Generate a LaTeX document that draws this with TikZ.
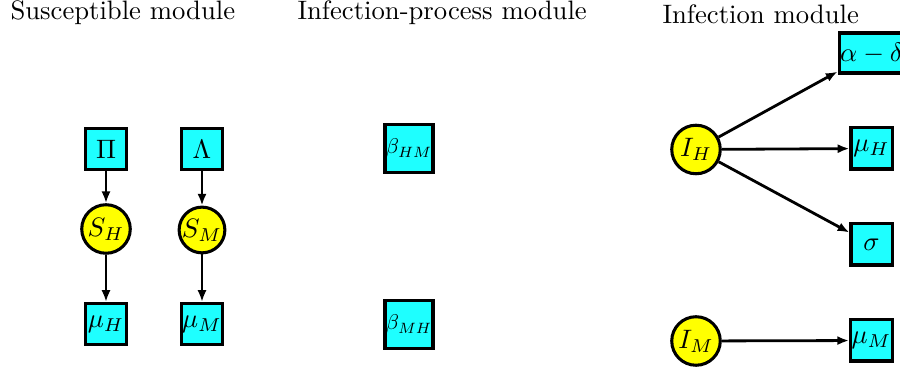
\documentclass[tikz,border=0pt]{standalone}
\usetikzlibrary{arrows.meta}
\definecolor{boxcyan}{RGB}{30,255,255}
\definecolor{circyellow}{RGB}{255,255,0}
\begin{document}
\begin{tikzpicture}[x=0.375pt,y=-0.375pt,
  sqbox/.style={draw=black,fill=boxcyan,line width=1.15pt,inner sep=0.4pt,minimum width=15.4pt,minimum height=15.4pt},
  bigbox/.style={sqbox,inner sep=0pt,minimum width=18pt,minimum height=18pt},
  statecirc/.style={circle,draw=black,fill=circyellow,line width=1.15pt,inner sep=0pt,minimum size=18.2pt},
  flow/.style={line width=1.05pt,-{Latex[length=4.4pt,width=3.4pt]}},
  title/.style={anchor=base west,inner sep=0pt,font=\normalsize}]
\clip (0,0) rectangle (900,368);
% titles
\node[title] (t1) at (10,19.5) {Susceptible module};
\node[title] (t2) at (297,19.5) {Infection-process module};
\node[title] (t3) at (662,23.5) {Infection module};
% susceptible module
\node[sqbox] (P) at (106,149) {$\Pi$};
\node[statecirc] (SH) at (106,229) {$S_H$};
\node[sqbox] (muH1) at (106,324) {$\mu_H$};
\node[sqbox] (L) at (202,149) {$\Lambda$};
\node[statecirc,minimum size=15.8pt] (SM) at (202,230) {$S_M$};
\node[sqbox] (muM1) at (202,324) {$\mu_M$};
\draw[flow] (P) -- (SH);
\draw[flow] (SH) -- (muH1);
\draw[flow] (L) -- (SM);
\draw[flow] (SM) -- (muM1);
% infection-process module
\node[bigbox] (bHM) at (409,148.5) {\scalebox{0.8}{$\beta_{HM}$}};
\node[bigbox] (bMH) at (409,324.5) {\scalebox{0.8}{$\beta_{MH}$}};
% infection module
\node[statecirc] (IH) at (696,149.5) {$I_H$};
\node[sqbox,minimum height=15pt] (ad) at (871.5,53) {$\alpha-\delta$};
\node[sqbox] (muH2) at (871.5,148.5) {$\mu_H$};
\node[sqbox] (sig) at (871.5,244.5) {$\sigma$};
\node[statecirc] (IM) at (696,341) {$I_M$};
\node[sqbox] (muM2) at (871.5,340.5) {$\mu_M$};
\draw[flow] (IH) -- (ad);
\draw[flow] (IH) -- (muH2);
\draw[flow] (IH) -- (sig);
\draw[flow] (IM) -- (muM2);
\end{tikzpicture}
\end{document}
